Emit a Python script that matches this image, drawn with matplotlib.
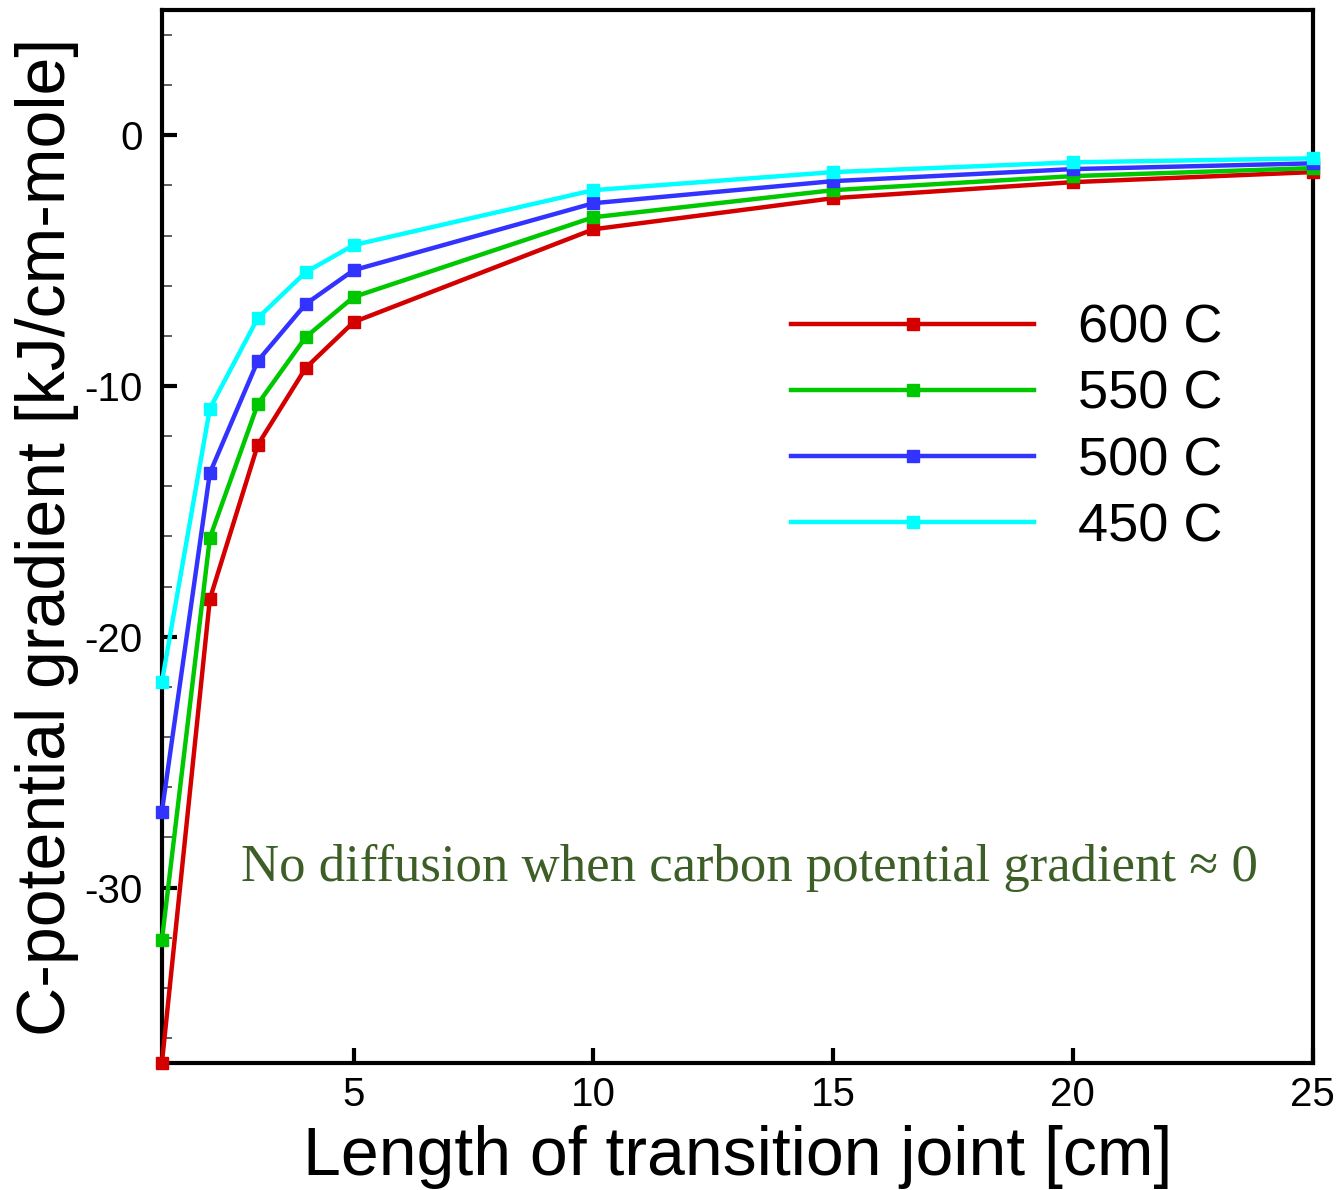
import numpy as np
import matplotlib
matplotlib.use('Agg')
import matplotlib.pyplot as plt
from matplotlib.ticker import MultipleLocator, FixedLocator

plt.rcParams['font.family'] = ['Liberation Sans', 'DejaVu Sans']
plt.rcParams['axes.unicode_minus'] = False

# Du lieu doc tu hinh
length_cm = [1, 2, 3, 4, 5, 10, 15, 20, 25]
grad_600 = [-37.0, -18.5, -12.35, -9.28, -7.45, -3.75, -2.51, -1.87, -1.47]
grad_550 = [-32.1, -16.06, -10.72, -8.05, -6.45, -3.27, -2.19, -1.63, -1.31]
grad_500 = [-26.97, -13.47, -9.0, -6.73, -5.38, -2.71, -1.83, -1.35, -1.12]
grad_450 = [-21.8, -10.9, -7.29, -5.46, -4.38, -2.19, -1.47, -1.08, -0.92]
labels = ['600 C', '550 C', '500 C', '450 C']
colors = ['#d40000', '#00c800', '#3333ff', '#00ffff']

fig = plt.figure(figsize=(13.38, 11.9), dpi=100)
ax = fig.add_axes([0.121, 0.1067, 0.86, 0.885])

for y, lab, c in zip([grad_600, grad_550, grad_500, grad_450], labels, colors):
    ax.plot(length_cm, y, color=c, lw=3.2, marker='s', ms=8.5, mfc=c, mec=c,
            label=lab, clip_on=False, zorder=3)

ax.set_xlim(1, 25)
ax.set_ylim(-37, 5)
ax.xaxis.set_major_locator(FixedLocator([5, 10, 15, 20, 25]))
ax.yaxis.set_major_locator(FixedLocator([0, -10, -20, -30]))
ax.yaxis.set_minor_locator(MultipleLocator(2))
ax.tick_params(axis='both', which='major', direction='in', length=11, width=3,
               labelsize=29, pad=9)
ax.tick_params(axis='y', which='minor', direction='in', length=7, width=1.2,
               color='#444444')
ax.tick_params(axis='y', which='major', pad=14)
for s in ax.spines.values():
    s.set_linewidth(3)

ax.set_xlabel('Length of transition joint [cm]', fontsize=49, labelpad=8)
ax.set_ylabel('C-potential gradient [kJ/cm-mole]', fontsize=49, labelpad=4)

leg = ax.legend(loc='center', bbox_to_anchor=(0.734, 0.603), frameon=False,
                fontsize=39, handlelength=4.5, handletextpad=0.8,
                labelspacing=0.3, borderpad=0, numpoints=1)

ax.text(0.511, 0.185, 'No diffusion when carbon potential gradient \u2248 0',
        transform=ax.transAxes, ha='center', va='center', fontsize=38,
        color='#3d5e26', family=['Liberation Serif', 'DejaVu Serif'])

fig.savefig('out.png', dpi=100)
